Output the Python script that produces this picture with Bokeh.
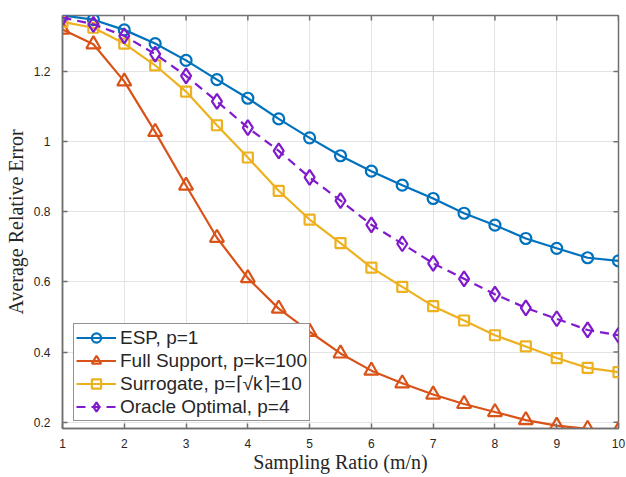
import math
from bokeh.plotting import figure
from bokeh.models import FixedTicker, Range1d, Legend
from bokeh.embed import file_html
from bokeh.resources import INLINE

# ---- data ----
ratio = [1, 1.5, 2, 2.5, 3, 3.5, 4, 4.5, 5, 5.5, 6, 6.5, 7, 7.5, 8, 8.5, 9, 9.5, 10]
esp = [1.36, 1.348, 1.319, 1.28, 1.232, 1.177, 1.124, 1.065, 1.011, 0.96,
       0.916, 0.876, 0.838, 0.796, 0.762, 0.724, 0.696, 0.669, 0.66]
full_support = [1.32, 1.278, 1.172, 1.028, 0.875, 0.726, 0.611, 0.524, 0.458, 0.396,
                0.347, 0.311, 0.279, 0.252, 0.229, 0.206, 0.19, 0.181, 0.177]
surrogate = [1.342, 1.325, 1.28, 1.218, 1.143, 1.047, 0.955, 0.86, 0.778, 0.711,
             0.641, 0.586, 0.531, 0.49, 0.448, 0.416, 0.383, 0.355, 0.343]
oracle = [1.354, 1.335, 1.302, 1.25, 1.188, 1.115, 1.04, 0.974, 0.898, 0.832,
          0.763, 0.709, 0.653, 0.609, 0.565, 0.526, 0.495, 0.463, 0.448]

x_ticks = [1, 2, 3, 4, 5, 6, 7, 8, 9, 10]
y_ticks = [0.2, 0.4, 0.6, 0.8, 1.0, 1.2]
x_lim = (1, 10)
y_lim = (0.182, 1.36)

labels = ["ESP, p=1", "Full Support, p=k=100",
          "Surrogate, p=\u2308\u221Ak\u2309=10", "Oracle Optimal, p=4"]
colors = ["#0072BD", "#D95319", "#EDB120", "#801ACC"]

AXIS_COLOR = "#707070"
TEXT_COLOR = "#262626"

p = figure(width=626, height=477, output_backend="svg", toolbar_location=None,
           x_range=Range1d(*x_lim), y_range=Range1d(*y_lim),
           min_border_left=62, min_border_right=8, min_border_top=15, min_border_bottom=49)

p.background_fill_color = "white"
p.border_fill_color = "white"
p.outline_line_color = AXIS_COLOR
p.outline_line_width = 1.5

for ax in (p.xaxis[0], p.yaxis[0]):
    ax.axis_line_color = AXIS_COLOR
    ax.axis_line_width = 1.5
    ax.major_tick_line_color = AXIS_COLOR
    ax.major_tick_line_width = 1.5
    ax.major_tick_in = 5
    ax.major_tick_out = 0
    ax.minor_tick_line_color = None
    ax.major_label_text_font = "Liberation Sans"
    ax.major_label_text_font_size = "12px"
    ax.major_label_text_color = TEXT_COLOR
    ax.axis_label_text_font = "Liberation Serif"
    ax.axis_label_text_font_size = "20px"
    ax.axis_label_text_font_style = "normal"
    ax.axis_label_text_color = TEXT_COLOR

p.xaxis[0].ticker = FixedTicker(ticks=x_ticks)
p.yaxis[0].ticker = FixedTicker(ticks=y_ticks)
p.xaxis[0].major_label_standoff = 10
p.yaxis[0].major_label_standoff = 12
p.xaxis[0].axis_label = "Sampling Ratio (m/n)"
p.yaxis[0].axis_label = "Average Relative Error"
p.xaxis[0].axis_label_standoff = 0
p.yaxis[0].axis_label_standoff = 4
p.yaxis[0].major_label_overrides = {1.0: "1"}

p.xgrid[0].ticker = FixedTicker(ticks=x_ticks)
p.ygrid[0].ticker = FixedTicker(ticks=y_ticks)
p.xgrid.grid_line_color = "#E3E3E3"
p.ygrid.grid_line_color = "#E3E3E3"
p.xgrid.grid_line_width = 1
p.ygrid.grid_line_width = 1

# box ticks on the top and right edges (pointing inward)
p.scatter(x_ticks, [y_lim[1]] * len(x_ticks), marker="dash", size=10, angle=math.pi / 2,
          line_color=AXIS_COLOR, line_width=1.5)
p.scatter([x_lim[1]] * len(y_ticks), y_ticks, marker="dash", size=10,
          line_color=AXIS_COLOR, line_width=1.5)

series = [esp, full_support, surrogate, oracle]
markers = ["circle", "triangle", "square", "diamond"]
sizes = [11, 14, 10, 15]
dashes = ["solid", "solid", "solid", "9 6"]

items = []
for ys, lab, col, mk, sz, dsh in zip(series, labels, colors, markers, sizes, dashes):
    r1 = p.line(ratio, ys, line_color=col, line_width=2.2, line_dash=dsh)
    r2 = p.scatter(ratio, ys, marker=mk, size=sz, line_color=col, line_width=2.2,
                   fill_color=None)
    items.append((lab, [r1, r2]))

legend = Legend(items=items, location=(11, 7))
legend.border_line_color = "#262626"
legend.border_line_width = 1
legend.background_fill_color = "white"
legend.background_fill_alpha = 1
legend.label_text_font = "Liberation Sans"
legend.label_text_font_size = "19px"
legend.label_text_color = TEXT_COLOR
legend.label_height = 22
legend.glyph_height = 23
legend.glyph_width = 40
legend.label_standoff = 4
legend.spacing = 0
legend.padding = 2
legend.margin = 0
p.add_layout(legend, "center")

open("out.html", "w").write(file_html(p, INLINE))
